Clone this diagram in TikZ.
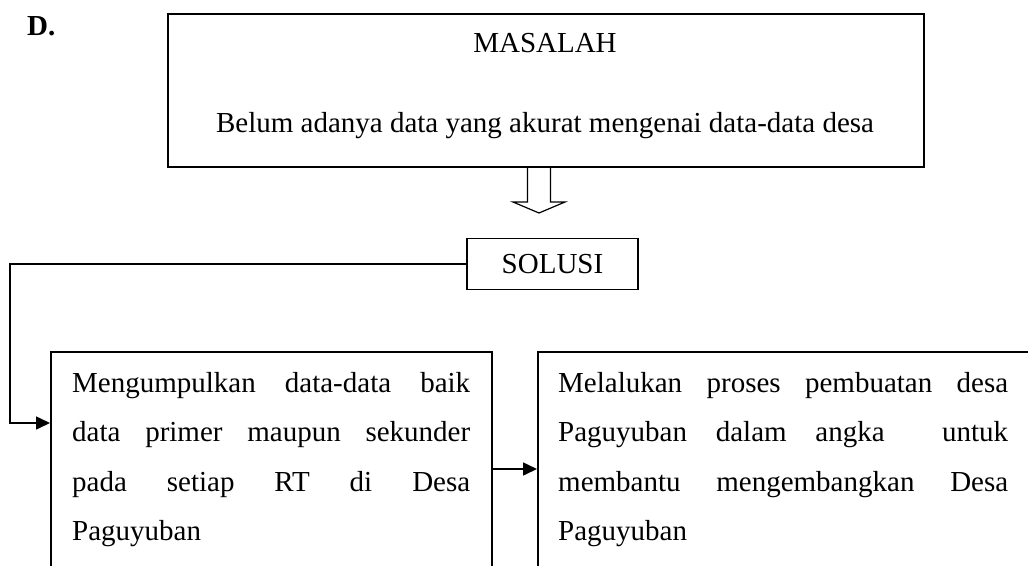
\documentclass[tikz,border=0pt]{standalone}
\usepackage{fontspec}
\setmainfont{Liberation Serif}
\usetikzlibrary{arrows.meta}

\tikzset{
  kotak/.style={draw,line width=1.7pt,rectangle,inner sep=0pt},
  teks/.style={inner sep=0pt,font=\fontsize{29}{49.5}\selectfont},
  panah/.style={line width=1.6pt,-{Triangle[length=14pt,width=13pt]}}
}
% satu baris rata kiri-kanan
\newcommand{\baris}[2]{\leavevmode\hbox to #1{#2}}

\begin{document}
\begin{tikzpicture}[x=1pt,y=-1pt]
\useasboundingbox (0,0) rectangle (1028,565);
\clip (0,0) rectangle (1028,565);

\node[teks,anchor=base west,font=\fontsize{29}{34}\selectfont\bfseries] (huruf) at (27,35) {D.};

% kotak masalah
\node[kotak,anchor=north west,minimum width=756pt,minimum height=153pt] (masalah) at (167,13) {};
\node[teks,anchor=base] (judul) at (545,52) {MASALAH};
\node[teks,anchor=base] (isimasalah) at (545,132) {Belum adanya data yang akurat mengenai data-data desa};

% panah kosong
\coordinate (pangkal) at (539,166);
\draw[line width=1.2pt,line join=miter] (pangkal) ++(-11.5,0) -- ++(0,36) -- ++(-14.5,0)
  -- ++(26,11) -- ++(26,-11) -- ++(-14.5,0) -- ++(0,-36);

\node[kotak,teks,minimum width=171pt,minimum height=51pt] (solusi) at (552.5,264) {SOLUSI};

% kotak bawah
\node[kotak,anchor=north west,minimum width=441pt,minimum height=300pt] (kiri) at (50,351) {};
\node[kotak,anchor=north west,minimum width=600pt,minimum height=300pt] (kanan) at (537,351) {};

\node[teks,anchor=base west,text width=398pt,align=left] (isikiri) at (72,392) {%
  \baris{398pt}{Mengumpulkan\hfill data-data\hfill baik}\\
  \baris{398pt}{data\hfill primer\hfill maupun\hfill sekunder}\\
  \baris{398pt}{pada\hfill setiap\hfill RT\hfill di\hfill Desa}\\
  Paguyuban};
\node[teks,anchor=base west,text width=450pt,align=left] (isikanan) at (558,392) {%
  \baris{450pt}{Melalukan\hfill proses\hfill pembuatan\hfill desa}\\
  \baris{450pt}{Paguyuban\hfill dalam\hfill angka\hfill\hfill untuk}\\
  \baris{450pt}{membantu\hfill mengembangkan\hfill Desa}\\
  Paguyuban};

% penghubung
\coordinate (sudut) at (10,423);
\coordinate (masuk1) at (50,423);
\coordinate (masuk2) at (537,469);
\draw[panah] (solusi.west) -| (sudut) -- (masuk1);
\draw[panah] (kiri.east |- masuk2) -- (masuk2);
\end{tikzpicture}
\end{document}
